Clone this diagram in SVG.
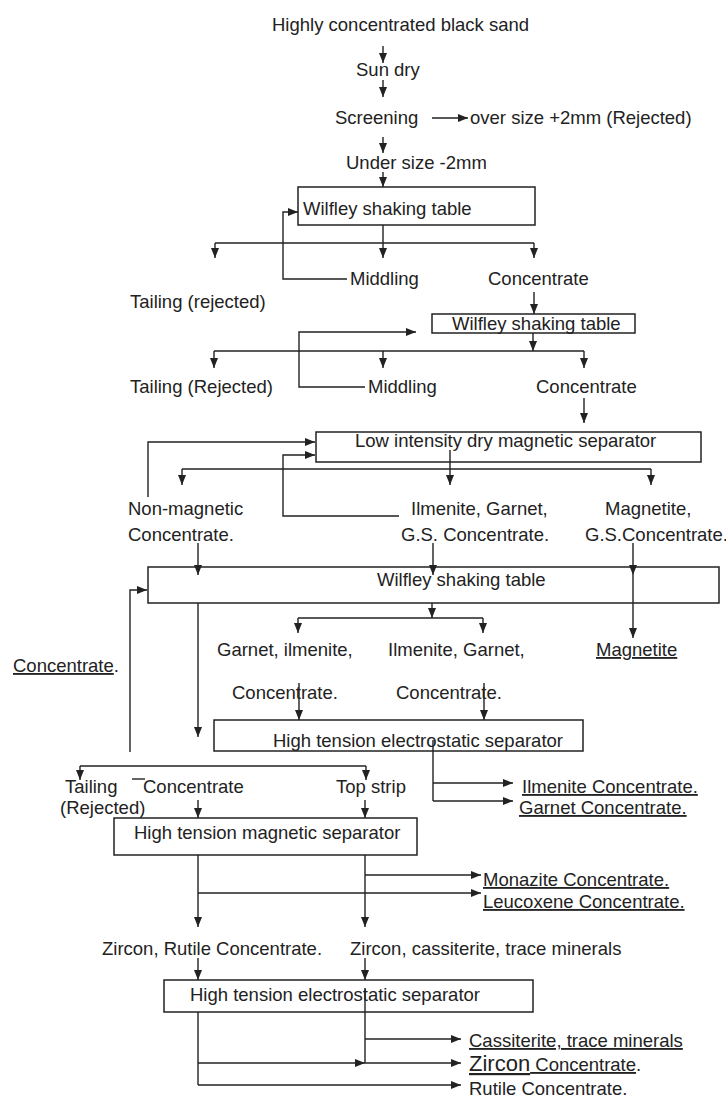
<svg xmlns="http://www.w3.org/2000/svg" width="726" height="1100" viewBox="0 0 726 1100">
<style>
text { font-family: "Liberation Sans", Arial, sans-serif; font-size: 18.5px; fill: #222; }
.u { text-decoration: underline; }
.box { fill: none; stroke: #222; stroke-width: 1.5; }
.c { fill: none; stroke: #222; stroke-width: 1.4; }
.a { marker-end: url(#ah); }
</style>
<defs>
<marker id="ah" markerUnits="userSpaceOnUse" markerWidth="10" markerHeight="8" viewBox="0 0 10 8" refX="10" refY="4" orient="auto"><path d="M0,0 L10,4 L0,8 z" fill="#222"/></marker>
</defs>
<rect x="0" y="0" width="726" height="1100" fill="#fff"/>

<g id="connectors">
<path class="c a" d="M383,46 V63"/>
<path class="c a" d="M383,80 V97"/>
<path class="c a" d="M432,118 H468"/>
<path class="c a" d="M383,137 V153"/>
<path class="c a" d="M383,172 V187"/>
<path class="c a" d="M383,225 V258"/>
<path class="c" d="M215,243 H534"/>
<path class="c a" d="M215,243 V258"/>
<path class="c a" d="M534,243 V258"/>
<path class="c a" d="M347,279 H283 V212 H298"/>
<path class="c a" d="M534,292 V314"/>
<path class="c a" d="M533,333 V351"/>
<path class="c" d="M214,351 H584"/>
<path class="c a" d="M214,351 V368"/>
<path class="c a" d="M383,351 V368"/>
<path class="c a" d="M584,351 V368"/>
<path class="c a" d="M365,387 H299 V332 H416"/>
<path class="c a" d="M584,398 V423"/>
<path class="c a" d="M450,450 V485"/>
<path class="c" d="M182,469 H651"/>
<path class="c a" d="M182,469 V485"/>
<path class="c a" d="M651,469 V485"/>
<path class="c a" d="M148,497 V442 H315"/>
<path class="c a" d="M399,516 H283 V455 H315"/>
<path class="c a" d="M198,543 V575"/>
<path class="c a" d="M433,543 V575"/>
<path class="c a" d="M633,543 V575"/>
<path class="c a" d="M633,575 V638"/>
<path class="c a" d="M130,752 V590 H147"/>
<path class="c a" d="M198,603 V737"/>
<path class="c a" d="M432,603 V618"/>
<path class="c" d="M298,618 H483"/>
<path class="c a" d="M298,618 V633"/>
<path class="c a" d="M483,618 V633"/>
<path class="c a" d="M299,683 V720"/>
<path class="c a" d="M484,683 V720"/>
<path class="c" d="M433,740 V801"/>
<path class="c a" d="M433,783 H513"/>
<path class="c a" d="M433,801 H513"/>
<path class="c" d="M80,766 H366"/>
<path class="c a" d="M80,766 V780"/>
<path class="c a" d="M366,766 V780"/>
<path class="c" d="M132,779 H145"/>
<path class="c a" d="M198,800 V818"/>
<path class="c a" d="M365,800 V818"/>
<path class="c a" d="M198,855 V927"/>
<path class="c a" d="M365,855 V927"/>
<path class="c a" d="M365,875 H481"/>
<path class="c a" d="M198,893 H481"/>
<path class="c a" d="M198,958 V980"/>
<path class="c a" d="M365,958 V980"/>
<path class="c" d="M198,1012 V1085"/>
<path class="c" d="M365,988 V1063"/>
<path class="c a" d="M365,1039 H461"/>
<path class="c a" d="M198,1063 H365"/>
<path class="c a" d="M365,1063 H461"/>
<path class="c a" d="M198,1085 H461"/>
</g>

<g id="n-black-sand"><text x="272" y="31">Highly concentrated black sand</text></g>
<g id="n-sun-dry"><text x="356" y="76">Sun dry</text></g>
<g id="n-screening"><text x="335" y="124">Screening</text></g>
<g id="n-oversize"><text x="470" y="124">over size +2mm (Rejected)</text></g>
<g id="n-undersize"><text x="346" y="169">Under size -2mm</text></g>

<g id="n-wilfley1"><rect class="box" x="298" y="187" width="237" height="38"/><text x="303" y="215">Wilfley shaking table</text></g>
<g id="n-middling1"><text x="350" y="285">Middling</text></g>
<g id="n-concentrate1"><text x="488" y="285">Concentrate</text></g>
<g id="n-tailing1"><text x="130" y="308">Tailing (rejected)</text></g>

<g id="n-wilfley2"><rect class="box" x="432" y="314" width="203" height="19"/><text x="452" y="330">Wilfley shaking table</text></g>
<g id="n-tailing2"><text x="130" y="393">Tailing (Rejected)</text></g>
<g id="n-middling2"><text x="368" y="393">Middling</text></g>
<g id="n-concentrate2"><text x="536" y="393">Concentrate</text></g>

<g id="n-lidms"><rect class="box" x="316" y="432" width="385" height="30"/><text x="355" y="447">Low intensity dry magnetic separator</text></g>
<g id="n-nonmag"><text x="128" y="515">Non-magnetic</text><text x="128" y="541">Concentrate.</text></g>
<g id="n-ilm-garnet"><text x="411" y="515">Ilmenite, Garnet,</text><text x="401" y="541">G.S. Concentrate.</text></g>
<g id="n-magnetite-gs"><text x="605" y="515">Magnetite,</text><text x="585" y="541">G.S.Concentrate.</text></g>

<g id="n-wilfley3"><rect class="box" x="148" y="567" width="571" height="36"/><text x="377" y="586">Wilfley shaking table</text></g>
<g id="n-concentrate-left"><text x="13" y="672"><tspan class="u">Concentrate</tspan><tspan>.</tspan></text></g>
<g id="n-garnet-ilm"><text x="217" y="656">Garnet, ilmenite,</text><text x="232" y="699">Concentrate.</text></g>
<g id="n-ilm-garnet2"><text x="388" y="656">Ilmenite, Garnet,</text><text x="396" y="699">Concentrate.</text></g>
<g id="n-magnetite"><text class="u" x="596" y="656">Magnetite</text></g>

<g id="n-htes1"><rect class="box" x="214" y="720" width="369" height="31"/><text x="273" y="747">High tension electrostatic separator</text></g>
<g id="n-tailing3"><text x="65" y="793">Tailing</text><text x="60" y="814">(Rejected)</text></g>
<g id="n-concentrate3"><text x="143" y="793">Concentrate</text></g>
<g id="n-topstrip"><text x="336" y="793">Top strip</text></g>
<g id="n-ilmenite-conc"><text class="u" x="522" y="793">Ilmenite Concentrate.</text></g>
<g id="n-garnet-conc"><text class="u" x="519" y="814">Garnet Concentrate.</text></g>

<g id="n-htms"><rect class="box" x="114" y="818" width="303" height="37"/><text x="134" y="839">High tension magnetic separator</text></g>
<g id="n-monazite"><text class="u" x="483" y="886">Monazite Concentrate.</text></g>
<g id="n-leucoxene"><text class="u" x="483" y="908">Leucoxene Concentrate.</text></g>
<g id="n-zircon-rutile"><text x="102" y="955">Zircon, Rutile Concentrate.</text></g>
<g id="n-zircon-cass"><text x="350" y="955">Zircon, cassiterite, trace minerals</text></g>

<g id="n-htes2"><rect class="box" x="164" y="980" width="369" height="32"/><text x="190" y="1001">High tension electrostatic separator</text></g>
<g id="n-cassiterite"><text class="u" x="469" y="1047">Cassiterite, trace minerals</text></g>
<g id="n-zircon-conc"><text x="469" y="1071"><tspan class="u" style="font-size:22px">Zircon</tspan><tspan class="u"> Concentrate</tspan><tspan>.</tspan></text></g>
<g id="n-rutile-conc"><text x="469" y="1095">Rutile Concentrate.</text></g>
</svg>
